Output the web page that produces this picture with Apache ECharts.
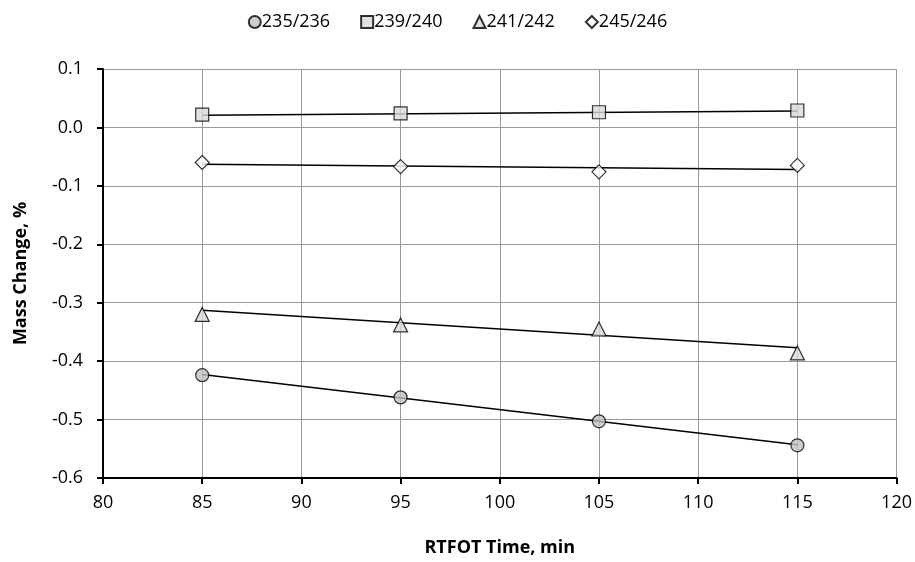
<!DOCTYPE html>
<html>
<head>
<meta charset="utf-8">
<script src="https://cdn.jsdelivr.net/npm/echarts@6/dist/echarts.min.js"></script>
<style>
  html, body { margin: 0; padding: 0; background: #fff; }
  #chart { width: 915px; height: 562px; }
</style>
</head>
<body>
<div id="chart"></div>
<script>
// RTFOT aging times (min)
const times = [85, 95, 105, 115];

// Mass change (%) measured for each sample pair
const seriesNames = ['235/236', '239/240', '241/242', '245/246'];
const mass235 = [-0.424, -0.462, -0.503, -0.544];
const mass239 = [0.022, 0.024, 0.026, 0.029];
const mass241 = [-0.320, -0.338, -0.345, -0.386];
const mass245 = [-0.060, -0.067, -0.076, -0.065];

// Linear trend lines, end values at 85 and 115 min
const trendTimes = [85, 115];
const trend235 = [-0.423, -0.543];
const trend239 = [0.021, 0.028];
const trend241 = [-0.313, -0.377];
const trend245 = [-0.063, -0.072];

// Axis ranges / tick steps
const xMin = 80, xMax = 120, xStep = 5;
const yMin = -0.6, yMax = 0.1, yStep = 0.1;

const FONT = 'Open Sans';

const markerStyles = [
  { symbol: 'circle', size: 13, fill: '#bfbfbf' },
  { symbol: 'rect', size: 13, fill: '#d9d9d9' },
  { symbol: 'triangle', size: 14, fill: '#d9d9d9' },
  { symbol: 'diamond', size: 14, fill: '#ffffff' }
];
const measured = [mass235, mass239, mass241, mass245];
const trends = [trend235, trend239, trend241, trend245];

const pairs = (xs, ys) => xs.map((x, i) => [x, ys[i]]);

const series = [];
trends.forEach((t) => {
  series.push({
    type: 'line',
    data: pairs(trendTimes, t),
    showSymbol: false,
    symbol: 'none',
    silent: true,
    lineStyle: { color: '#000', width: 1.5 },
    z: 2
  });
});
measured.forEach((m, i) => {
  const s = markerStyles[i];
  series.push({
    name: seriesNames[i],
    type: 'scatter',
    data: pairs(times, m),
    symbol: s.symbol,
    symbolSize: s.size,
    itemStyle: { color: s.fill, borderColor: '#000', borderWidth: 1.2 },
    z: 3
  });
});

const chart = echarts.init(document.getElementById('chart'), null, { renderer: 'canvas' });
chart.setOption({
  animation: false,
  backgroundColor: '#fff',
  legend: {
    top: 8,
    left: 'center',
    data: seriesNames,
    itemWidth: 12,
    itemHeight: 12,
    itemGap: 30,
    textStyle: { fontFamily: FONT, fontSize: 18, color: '#000', padding: [0, 0, 0, -4] }
  },
  grid: { left: 103, right: 18, top: 69, bottom: 81, containLabel: false },
  xAxis: {
    type: 'value',
    min: xMin, max: xMax, interval: xStep,
    name: 'RTFOT Time, min',
    nameLocation: 'middle',
    nameGap: 61,
    nameTextStyle: { fontFamily: FONT, fontSize: 18, fontWeight: 'bold', color: '#000' },
    axisLine: { show: true, onZero: false, lineStyle: { color: '#000', width: 2 } },
    axisTick: { show: true, length: 6, lineStyle: { color: '#000', width: 2 } },
    axisLabel: { fontFamily: FONT, fontSize: 18, color: '#000', margin: 16 },
    splitLine: { show: true, lineStyle: { color: '#999', width: 1 } }
  },
  yAxis: {
    type: 'value',
    min: yMin, max: yMax, interval: yStep,
    name: 'Mass Change, %',
    nameLocation: 'middle',
    nameGap: 73,
    nameTextStyle: { fontFamily: FONT, fontSize: 18, fontWeight: 'bold', color: '#000' },
    axisLine: { show: true, onZero: false, lineStyle: { color: '#000', width: 2 } },
    axisTick: { show: true, length: 6, lineStyle: { color: '#000', width: 2 } },
    axisLabel: { fontFamily: FONT, fontSize: 18, color: '#000', margin: 20,
      formatter: (v) => v.toFixed(1) },
    splitLine: { show: true, lineStyle: { color: '#999', width: 1 } }
  },
  series: series
});
</script>
</body>
</html>
